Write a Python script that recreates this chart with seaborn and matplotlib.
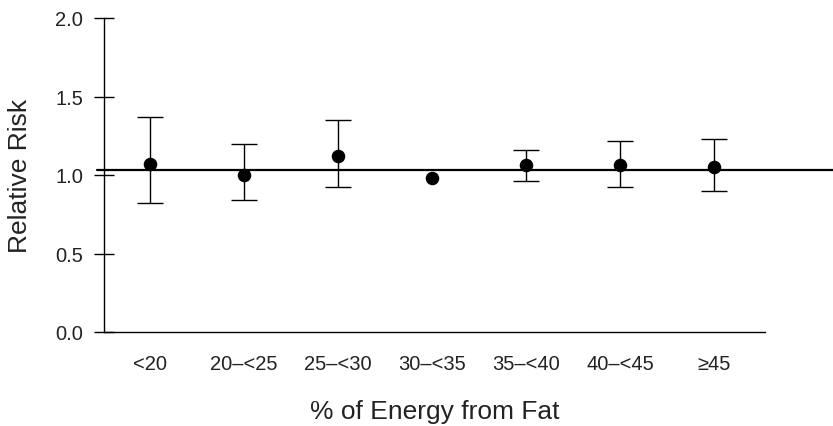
import matplotlib
matplotlib.use("Agg")
import matplotlib.pyplot as plt
import seaborn as sns
import numpy as np
import pandas as pd

categories = ["<20", "20\u2013<25", "25\u2013<30", "30\u2013<35", "35\u2013<40", "40\u2013<45", "\u226545"]
rr = [1.07, 1.00, 1.12, 0.98, 1.066, 1.066, 1.05]
ci_low = [0.82, 0.843, 0.924, np.nan, 0.96, 0.925, 0.90]
ci_high = [1.367, 1.197, 1.353, np.nan, 1.161, 1.219, 1.227]
ref_line = 1.03
yticks = [0.0, 0.5, 1.0, 1.5, 2.0]

sns.set_theme(style="ticks")
plt.rcParams['font.family'] = ['Liberation Sans', 'DejaVu Sans']

df = pd.DataFrame({"cat": categories, "rr": rr, "lo": ci_low, "hi": ci_high})
df["pos"] = np.arange(len(df))

fig = plt.figure(figsize=(8.33, 4.27), dpi=100)
ax = fig.add_axes([104/833, 1-333/427, (765-104)/833, (333-19)/427])

ax.axhline(ref_line, xmin=-0.01, xmax=1.12, color="black", lw=1.6, clip_on=False, zorder=2)

eb = df.dropna(subset=["lo", "hi"])
ax.errorbar(eb["pos"], eb["rr"], yerr=[eb["rr"] - eb["lo"], eb["hi"] - eb["rr"]],
            fmt="none", ecolor="black", elinewidth=1.0, capsize=9.5, capthick=1.0, zorder=3)

sns.scatterplot(data=df, x="pos", y="rr", color="black", s=95, edgecolor="black",
                linewidth=0, ax=ax, zorder=4, legend=False)

ax.set_xlim(-0.49, 6.54)
ax.set_ylim(0, 2.0)
ax.set_yticks(yticks)
ax.set_yticklabels([f"{v:.1f}" for v in yticks])
ax.set_xticks(df["pos"])
ax.set_xticklabels(categories)

for s in ["top", "right"]:
    ax.spines[s].set_visible(False)
for s in ["left", "bottom"]:
    ax.spines[s].set_linewidth(1.0)
    ax.spines[s].set_color("black")

ax.tick_params(axis="y", direction="inout", length=14.4, width=1.0, pad=7.8,
               labelsize=14.5, colors="black", labelcolor="#222222")
ax.tick_params(axis="x", length=0, pad=16, labelsize=14.5, colors="black", labelcolor="#222222")

ax.set_xlabel("% of Energy from Fat", fontsize=19, labelpad=18.5, color="#222222")
ax.set_ylabel("Relative Risk", fontsize=19, labelpad=17, color="#222222")

fig.savefig("out.png", dpi=100)
